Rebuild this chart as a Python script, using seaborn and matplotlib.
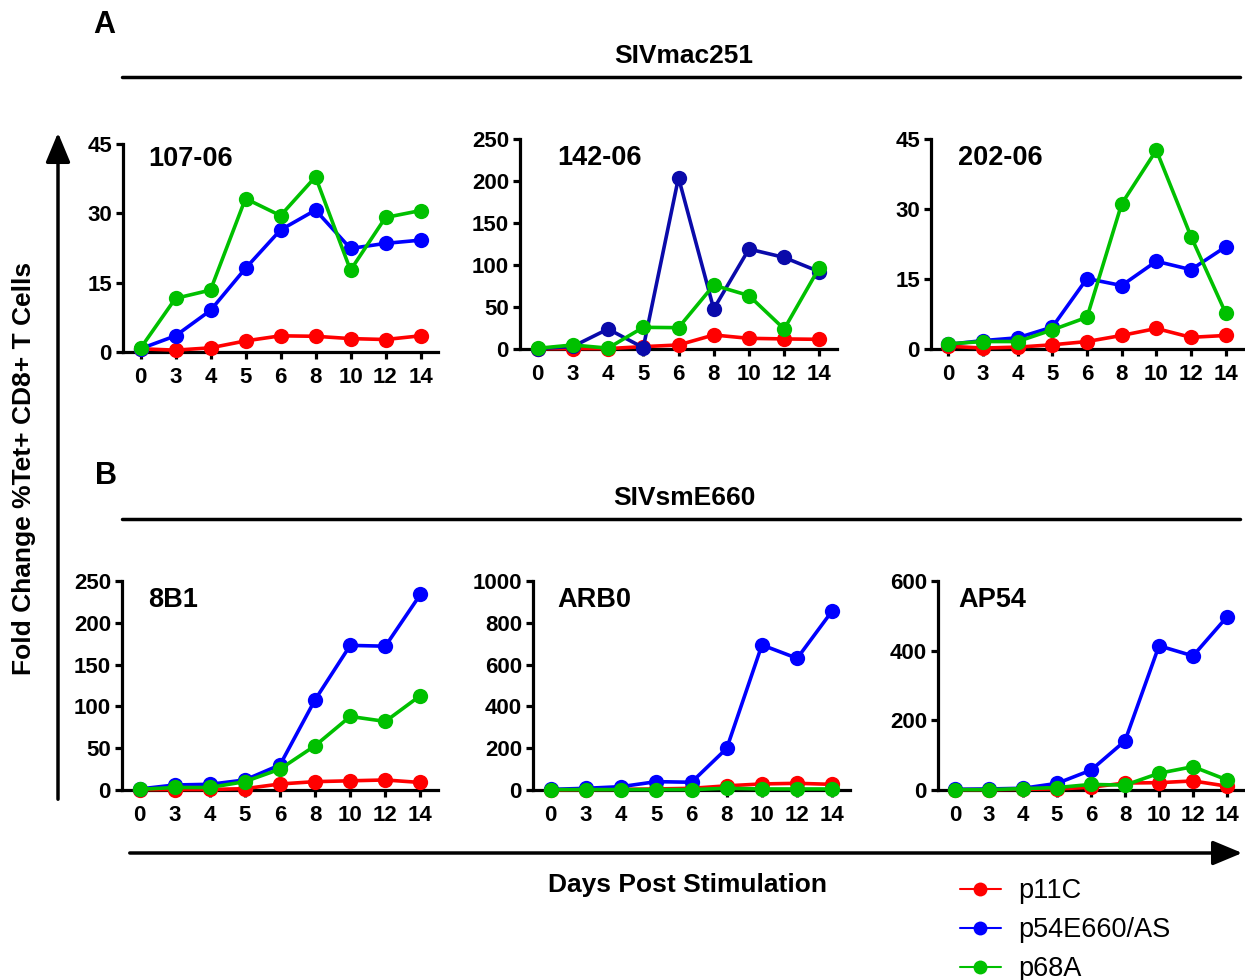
import matplotlib
matplotlib.use("Agg")
import matplotlib.pyplot as plt
import seaborn as sns
import pandas as pd
from matplotlib.lines import Line2D
from matplotlib.patches import FancyArrowPatch

# ---------------- data ----------------
days = ["0", "3", "4", "5", "6", "8", "10", "12", "14"]
peptides = ["p11C", "p54E660/AS", "p68A"]

# Panel A: SIVmac251
a107_p11c = [0.7, 0.4, 0.9, 2.4, 3.5, 3.4, 2.9, 2.7, 3.5]
a107_p54 = [0.7, 3.5, 9.0, 18.1, 26.4, 30.7, 22.4, 23.5, 24.2]
a107_p68 = [0.8, 11.6, 13.4, 33.2, 29.5, 37.9, 17.7, 29.1, 30.6]

a142_p11c = [0.3, 0.5, 0.5, 2.8, 4.8, 16.7, 12.7, 12.0, 11.5]
a142_p54 = [0.5, 3.0, 23.8, 1.6, 204.0, 47.7, 119.0, 109.0, 92.0]
a142_p68 = [0.8, 4.8, 1.0, 25.8, 25.4, 76.0, 63.6, 23.8, 97.0]

a202_p11c = [0.6, 0.2, 0.4, 0.9, 1.6, 2.9, 4.4, 2.5, 2.9]
a202_p54 = [1.0, 1.8, 2.4, 4.7, 15.1, 13.6, 18.8, 17.0, 21.9]
a202_p68 = [1.1, 1.6, 1.6, 4.1, 6.8, 31.1, 42.6, 24.1, 7.7]

# Panel B: SIVsmE660
b8b1_p11c = [0.4, 0.5, 0.6, 1.6, 7.2, 10.0, 11.0, 12.0, 9.0]
b8b1_p54 = [1.2, 6.0, 6.8, 12.0, 30.0, 108.0, 173.0, 172.0, 234.0]
b8b1_p68 = [0.8, 3.0, 3.0, 10.0, 25.0, 53.0, 88.0, 82.0, 113.0]

barb_p11c = [0.5, 2.0, 3.0, 5.0, 8.0, 20.0, 29.0, 32.0, 27.0]
barb_p54 = [3.0, 8.0, 16.0, 40.0, 37.0, 199.0, 694.0, 630.0, 858.0]
barb_p68 = [2.0, 2.0, 2.0, 2.0, 2.0, 8.0, 5.0, 5.0, 5.0]

bap54_p11c = [1.0, 1.0, 2.0, 3.0, 8.0, 20.0, 21.0, 26.0, 11.0]
bap54_p54 = [2.0, 3.0, 5.0, 19.0, 57.0, 141.0, 414.0, 385.0, 497.0]
bap54_p68 = [1.0, 1.0, 4.0, 7.0, 16.0, 14.0, 48.0, 67.0, 29.0]

panel_names = ["107-06", "142-06", "202-06", "8B1", "ARB0", "AP54"]
panel_series = [
    (a107_p11c, a107_p54, a107_p68),
    (a142_p11c, a142_p54, a142_p68),
    (a202_p11c, a202_p54, a202_p68),
    (b8b1_p11c, b8b1_p54, b8b1_p68),
    (barb_p11c, barb_p54, barb_p68),
    (bap54_p11c, bap54_p54, bap54_p68),
]
panel_yticks = [
    [0, 15, 30, 45],
    [0, 50, 100, 150, 200, 250],
    [0, 15, 30, 45],
    [0, 50, 100, 150, 200, 250],
    [0, 200, 400, 600, 800, 1000],
    [0, 200, 400, 600],
]

RED, BLUE, GREEN, NAVY = "#FF0000", "#0000FF", "#00C000", "#0A0AAA"

# ---------------- style ----------------
sns.set_theme(style="ticks")
plt.rcParams["font.family"] = ["Liberation Sans", "DejaVu Sans"]
plt.rcParams["text.color"] = "black"
plt.rcParams["axes.labelcolor"] = "black"
plt.rcParams["xtick.color"] = "black"
plt.rcParams["ytick.color"] = "black"

W, H = 1245, 980
fig = plt.figure(figsize=(W / 100, H / 100), dpi=100)


def rect(l, r, t, b):
    return [l / W, 1 - b / H, (r - l) / W, (b - t) / H]


axes_px = [
    (123, 438, 144, 352),
    (520, 837, 139, 349),
    (931, 1243, 139, 349),
    (122, 438, 581, 790),
    (533, 850, 581, 790),
    (938, 1244, 581, 790),
]
label_pos = [(0.08, 0.93), (0.117, 0.91), (0.087, 0.91),
             (0.082, 0.91), (0.076, 0.91), (0.065, 0.91)]

for i in range(6):
    ax = fig.add_axes(rect(*axes_px[i]))
    p11c, p54, p68 = panel_series[i]
    df = pd.DataFrame({
        "pos": list(range(len(days))) * 3,
        "value": list(p11c) + list(p54) + list(p68),
        "peptide": [peptides[0]] * len(days) + [peptides[1]] * len(days) + [peptides[2]] * len(days),
    })
    pal = {peptides[0]: RED, peptides[1]: NAVY if i == 1 else BLUE, peptides[2]: GREEN}
    sns.lineplot(data=df, x="pos", y="value", hue="peptide", hue_order=peptides,
                 palette=pal, marker="o", markersize=11, markeredgewidth=0,
                 linewidth=2.6, ax=ax, legend=False, clip_on=False, zorder=3)
    ax.set_xlim(-0.5, len(days) - 0.5)
    yt = panel_yticks[i]
    ax.set_ylim(0, yt[-1])
    ax.set_yticks(yt)
    ax.set_xticks(range(len(days)))
    ax.set_xticklabels(days)
    ax.set_xlabel("")
    ax.set_ylabel("")
    for s in ["top", "right"]:
        ax.spines[s].set_visible(False)
    for s in ["left", "bottom"]:
        ax.spines[s].set_linewidth(2.3)
        ax.spines[s].set_color("black")
    ax.tick_params(axis="both", length=5, width=2.3, color="black",
                   labelsize=16, pad=3, labelcolor="black")
    ax.tick_params(axis="x", pad=6)
    for lab in ax.get_xticklabels() + ax.get_yticklabels():
        lab.set_fontweight("bold")
    ax.set_facecolor("none")
    ax.text(label_pos[i][0], label_pos[i][1], panel_names[i], transform=ax.transAxes,
            fontsize=19.5, fontweight="bold", ha="left", va="center", color="black")

# ---------------- figure annotations ----------------
def fx(x):
    return x / W


def fy(y):
    return 1 - y / H


fig.text(fx(93), fy(25), "A", fontsize=22, fontweight="bold", ha="left", va="center")
fig.text(fx(95), fy(476), "B", fontsize=22, fontweight="bold", ha="left", va="center")
fig.text(fx(684), fy(56), "SIVmac251", fontsize=19, fontweight="bold", ha="center", va="center")
fig.text(fx(684), fy(498), "SIVsmE660", fontsize=19, fontweight="bold", ha="center", va="center")
fig.add_artist(Line2D([fx(122), fx(1240)], [fy(77), fy(77)], color="black", linewidth=2.5,
                      transform=fig.transFigure))
fig.add_artist(Line2D([fx(122), fx(1240)], [fy(519), fy(519)], color="black", linewidth=2.5,
                      transform=fig.transFigure))

fig.text(fx(24), fy(468), "Fold Change %Tet+ CD8+ T Cells", fontsize=19, fontweight="bold",
         rotation=90, ha="center", va="center")
fig.text(fx(688), fy(885), "Days Post Stimulation", fontsize=19, fontweight="bold",
         ha="center", va="center")

fig.add_artist(FancyArrowPatch((fx(58), fy(802)), (fx(58), fy(130)), transform=fig.transFigure,
                               arrowstyle="-|>,head_length=12,head_width=5", color="black",
                               linewidth=2.5, mutation_scale=1.5))
fig.add_artist(FancyArrowPatch((fx(127), fy(853)), (fx(1245), fy(853)), transform=fig.transFigure,
                               arrowstyle="-|>,head_length=12,head_width=5", color="black",
                               linewidth=2.5, mutation_scale=1.5))

handles = [Line2D([], [], color=c, marker="o", markersize=10, markeredgewidth=0, linewidth=1.5)
           for c in (RED, BLUE, GREEN)]
fig.legend(handles, peptides, loc="upper left", bbox_to_anchor=(fx(960), fy(878)),
           frameon=False, fontsize=19.5, handlelength=1.5, handletextpad=0.65,
           labelspacing=0.48, borderaxespad=0, borderpad=0)

fig.savefig("out.png", dpi=100)
